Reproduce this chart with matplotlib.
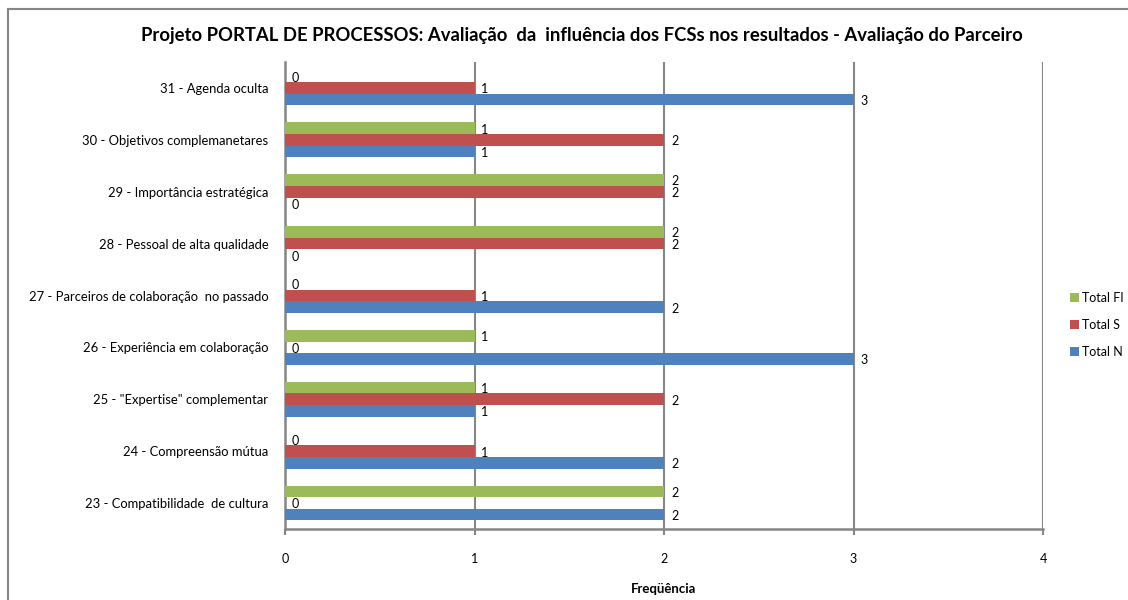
import matplotlib
matplotlib.use("Agg")
import matplotlib.pyplot as plt
from matplotlib.lines import Line2D
import numpy as np

plt.rcParams['font.family'] = ['Lato', 'DejaVu Sans']

categories = [
    "23 - Compatibilidade  de cultura",
    "24 - Compreensão mútua",
    "25 - \"Expertise\" complementar",
    "26 - Experiência em colaboração",
    "27 - Parceiros de colaboração  no passado",
    "28 - Pessoal de alta qualidade",
    "29 - Importância estratégica",
    "30 - Objetivos complemanetares",
    "31 - Agenda oculta",
]
total_n = [2, 2, 1, 3, 2, 0, 0, 1, 3]
total_s = [0, 1, 2, 0, 1, 2, 2, 2, 1]
total_fi = [2, 0, 1, 1, 0, 2, 2, 1, 0]

series = [
    ("Total N", total_n, "#4F81BD", -1),
    ("Total S", total_s, "#C0504D", 0),
    ("Total FI", total_fi, "#9BBB59", 1),
]

grid_color = "#868686"
fig = plt.figure(figsize=(11.28, 6.0), dpi=100)
ax = fig.add_axes([285 / 1128, 1 - 529 / 600, (1043 - 285) / 1128, (529 - 62) / 600])

y = np.arange(len(categories))
h = 0.224
for name, vals, color, off in series:
    pos = y + off * h
    ax.barh(pos, vals, height=h, color=color, label=name, zorder=3)
    for p, v in zip(pos, vals):
        ax.annotate(str(v), xy=(v, p), xytext=(5, -1), textcoords="offset points",
                    ha="left", va="center", fontsize=9, color="#000000", zorder=4)

ax.set_xlim(0, 4)
ax.set_ylim(-0.5, len(categories) - 0.5)
ax.set_xticks([0, 1, 2, 3, 4])
ax.set_yticks(y)
ax.set_yticklabels(categories, fontsize=9.4)
ax.tick_params(axis="y", length=0, pad=12)
ax.tick_params(axis="x", length=4, width=1.5, color=grid_color, pad=13, labelsize=9)
ax.xaxis.grid(True, color=grid_color, linewidth=1.5, zorder=1)
for side in ("top", "right"):
    ax.spines[side].set_visible(False)
for side in ("left", "bottom"):
    ax.spines[side].set_color(grid_color)
    ax.spines[side].set_linewidth(1.8)
ax.set_xlabel("Freqüência", fontsize=9.5, fontweight="bold", labelpad=13)

fig.text(582 / 1128, 1 - 35 / 600, "Projeto PORTAL DE PROCESSOS: Avaliação  da  influência dos FCSs nos resultados - Avaliação do Parceiro",
         ha="center", va="center", fontsize=13.3, fontweight="bold")

# chart frame (top and left edges)
fig.add_artist(Line2D([8 / 1128, 1.0], [1 - 9 / 600, 1 - 9 / 600], color=grid_color, linewidth=1.5))
fig.add_artist(Line2D([8 / 1128, 8 / 1128], [0.0, 1 - 9 / 600], color=grid_color, linewidth=1.5))

handles, labels = ax.get_legend_handles_labels()
fig.legend(handles[::-1], labels[::-1], loc="center left", bbox_to_anchor=(1070 / 1128, 1 - 325 / 600),
           frameon=False, fontsize=9, handlelength=0.7, handleheight=0.7, handletextpad=0.3,
           labelspacing=1.2, borderaxespad=0, borderpad=0)

fig.savefig("out.png", dpi=100)
